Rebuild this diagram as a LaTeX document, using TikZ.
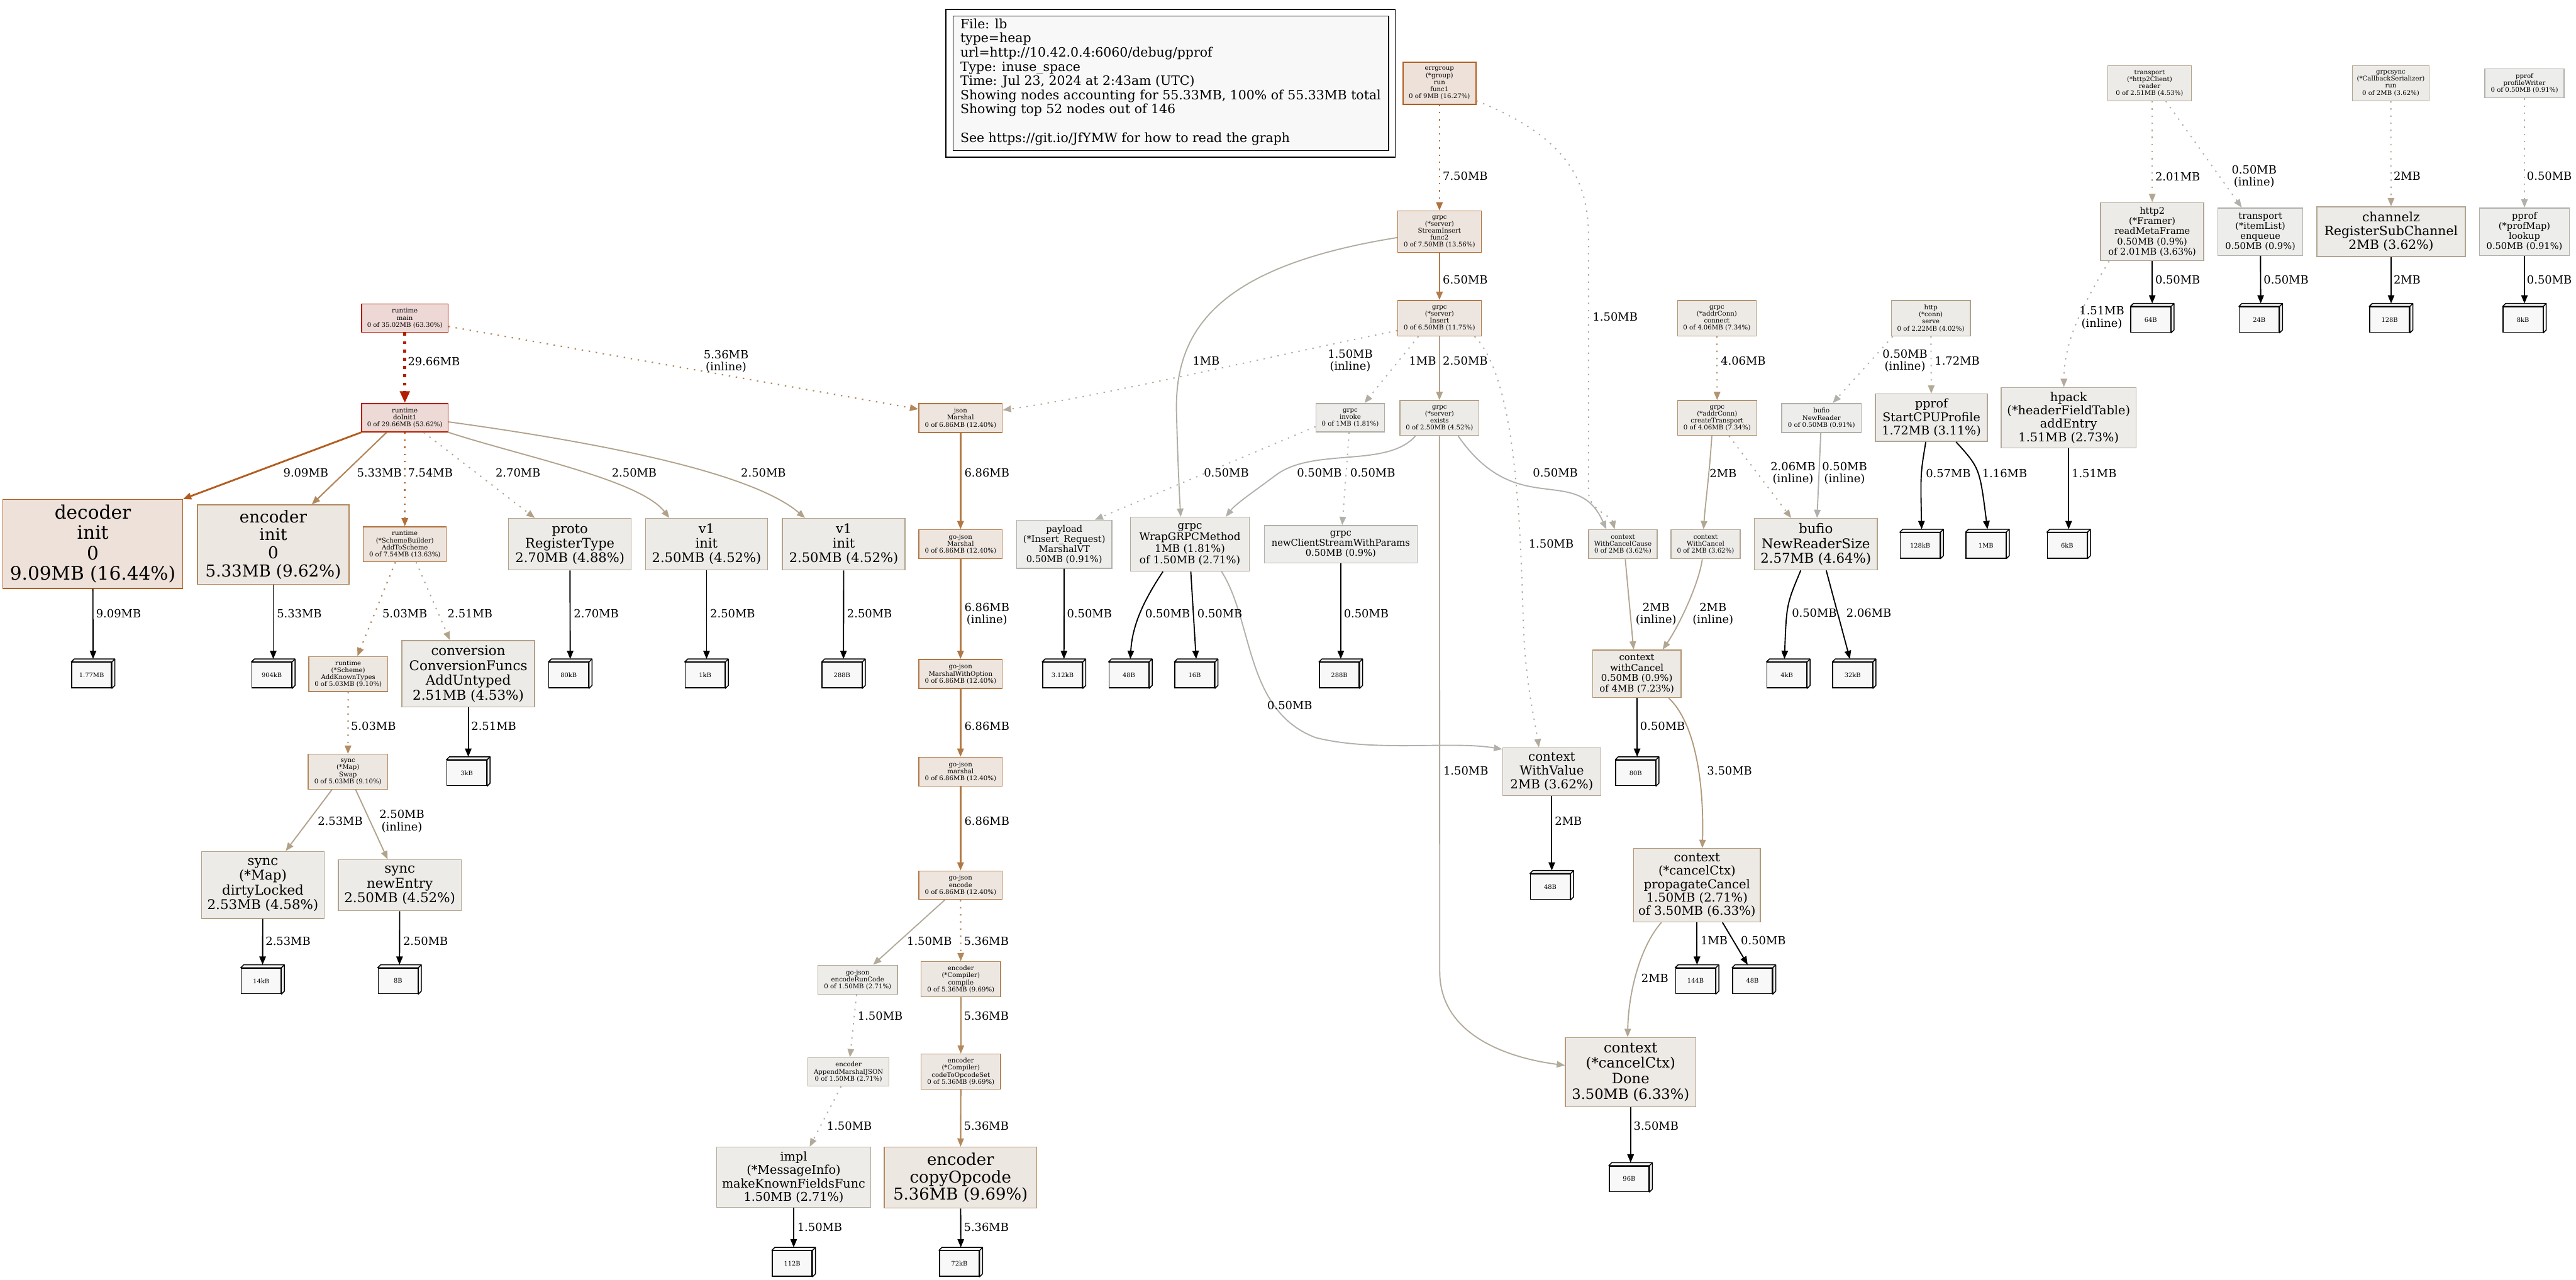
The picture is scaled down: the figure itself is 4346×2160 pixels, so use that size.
\documentclass[tikz,border=0pt]{standalone}
\usepackage{fontspec}
\setmainfont{DejaVu Serif}
\usetikzlibrary{arrows.meta}
\definecolor{fRa}{HTML}{EDD8D5}\definecolor{dRa}{HTML}{B21600}
\definecolor{fRb}{HTML}{EDD9D5}\definecolor{dRb}{HTML}{B21E00}
\definecolor{fO16}{HTML}{EDE1D9}\definecolor{dO16}{HTML}{B25D1F}
\definecolor{fO13}{HTML}{EDE4DD}\definecolor{dO13}{HTML}{B27039}
\definecolor{fO12}{HTML}{EDE5DE}\definecolor{dO12}{HTML}{B27743}
\definecolor{fO11}{HTML}{EDE5DF}\definecolor{dO11}{HTML}{B27B49}
\definecolor{fO9}{HTML}{EDE7E1}\definecolor{dO9}{HTML}{B2885C}
\definecolor{fT7}{HTML}{EDE9E4}\definecolor{dT7}{HTML}{B29471}
\definecolor{fT6}{HTML}{EDE9E5}\definecolor{dT6}{HTML}{B2997A}
\definecolor{fT4}{HTML}{EDEBE7}\definecolor{dT4}{HTML}{B2A28A}
\definecolor{fT3}{HTML}{EDEBE8}\definecolor{dT3}{HTML}{B2A692}
\definecolor{fT2}{HTML}{EDECE9}\definecolor{dT2}{HTML}{B2AA9A}
\definecolor{fG1}{HTML}{EDECEA}\definecolor{dG1}{HTML}{B2ADA2}
\definecolor{fG0}{HTML}{EDEDEC}\definecolor{dG0}{HTML}{B2B0AA}
\definecolor{ecRb}{HTML}{B21E00}
\definecolor{ec16}{HTML}{B25D1F}
\definecolor{ec13}{HTML}{B27039}
\definecolor{ec12}{HTML}{B27743}
\definecolor{ec11}{HTML}{B27B49}
\definecolor{ec9}{HTML}{B2885C}
\definecolor{ec9b}{HTML}{B28B61}
\definecolor{ec7}{HTML}{B29471}
\definecolor{ec6}{HTML}{B2997A}
\definecolor{ec4}{HTML}{B2A28A}
\definecolor{ec4b}{HTML}{B2A187}
\definecolor{ec3}{HTML}{B2A692}
\definecolor{ec3b}{HTML}{B2A896}
\definecolor{ec2}{HTML}{B2AA9A}
\definecolor{ec1}{HTML}{B2ADA2}
\definecolor{ec0}{HTML}{B2B0AA}
\definecolor{leaffill}{HTML}{F8F8F8}
\definecolor{legfill}{HTML}{F8F8F8}
\newcommand\fs[2]{\fontsize{#1pt}{#2pt}\selectfont}
\tikzset{
 pb/.style={draw,rectangle,inner sep=0pt,align=center,line width=1.5pt},
 cRa/.style={fill=fRa,draw=dRa}, cRb/.style={fill=fRb,draw=dRb},
 cO16/.style={fill=fO16,draw=dO16}, cO13/.style={fill=fO13,draw=dO13},
 cO12/.style={fill=fO12,draw=dO12}, cO11/.style={fill=fO11,draw=dO11},
 cO9/.style={fill=fO9,draw=dO9}, cT7/.style={fill=fT7,draw=dT7},
 cT6/.style={fill=fT6,draw=dT6}, cT4/.style={fill=fT4,draw=dT4},
 cT3/.style={fill=fT3,draw=dT3}, cT2/.style={fill=fT2,draw=dT2},
 cG1/.style={fill=fG1,draw=dG1}, cG0/.style={fill=fG0,draw=dG0},
 sm/.style={font=\fs{10.8}{11.9}},
 leafbox/.style={draw=black,fill=leaffill,line width=1.6pt,minimum width=67pt,minimum height=43pt,inner sep=0pt,font=\fs{10.5}{12}},
 leafside/.style={fill=leaffill,draw=black,line width=1.6pt,line join=round},
 ed/.style={line width=2pt,-{Triangle[length=14pt,width=11pt]}},
 wA/.style={line width=2.6pt},
 wB/.style={line width=2.3pt},
 dt/.style={dash pattern=on 2.5pt off 9.5pt},
 lf/.style={ed,draw=black},
 lb/.style={font=\fs{19}{20.5},align=center,inner sep=0pt},
 lg/.style={anchor=base west,inner sep=0pt,font=\fs{21.7}{24}},
}
\newcommand\leaf[4]{%
 \node[leafbox] (#1) at (#2-2.5,#3+2.5) {#4};
 \filldraw[leafside] (#1.north west) -- ([shift={(5,-5)}]#1.north west) -- ([shift={(5,-5)}]#1.north east) -- ([shift={(5,-5)}]#1.south east) -- (#1.south east) -- (#1.north east) -- cycle;
 \draw[leafside] (#1.north east) -- ([shift={(5,-5)}]#1.north east);
 \coordinate (#1t) at ([shift={(2.5,-5)}]#1.north);
}
\begin{document}
\begin{tikzpicture}[x=1pt,y=-1pt]
\useasboundingbox (0,0) rectangle (4346,2160);
\fill[white] (0,0) rectangle (4346,2160);
% legend
\node[draw=black,line width=1.6pt,fill=white,minimum width=758pt,minimum height=249pt,inner sep=0pt] (legout) at (1975,140.5) {};
\node[draw=black,line width=1.6pt,fill=legfill,minimum width=735pt,minimum height=227pt,inner sep=0pt] (legin) at (1975.5,140.5) {};
\node[lg] (lg1) at (1620,48) {File: lb};
\node[lg] (lg2) at (1620,72) {type=heap};
\node[lg] (lg3) at (1620,96) {url=http://10.42.0.4:6060/debug/pprof};
\node[lg] (lg4) at (1620,120) {Type: inuse\_space};
\node[lg] (lg5) at (1620,144) {Time: Jul 23, 2024 at 2:43am (UTC)};
\node[lg] (lg6) at (1620,168) {Showing nodes accounting for 55.33MB, 100\% of 55.33MB total};
\node[lg] (lg7) at (1620,192) {Showing top 52 nodes out of 146};
\node[lg] (lg8) at (1620,240) {See https://git.io/JfYMW for how to read the graph};
% ---------- nodes: top center ----------
\node[pb,cO16,sm,minimum width=123pt,minimum height=71pt] (eg) at (2428.5,140.5) {errgroup\\(*group)\\run\\func1\\0 of 9MB (16.27\%)};
\node[pb,cO13,sm,minimum width=141pt,minimum height=70pt] (si) at (2428.5,391) {grpc\\(*server)\\StreamInsert\\func2\\0 of 7.50MB (13.56\%)};
\node[pb,cO11,sm,minimum width=141pt,minimum height=60pt] (ins) at (2428.5,537) {grpc\\(*server)\\Insert\\0 of 6.50MB (11.75\%)};
\node[pb,cG1,sm,minimum width=116pt,minimum height=48pt] (inv) at (2278,705) {grpc\\invoke\\0 of 1MB (1.81\%)};
\node[pb,cT4,sm,minimum width=133pt,minimum height=59pt] (ex) at (2428.5,705.5) {grpc\\(*server)\\exists\\0 of 2.50MB (4.52\%)};
\node[pb,cG0,font=\fs{15.5}{17},minimum width=161pt,minimum height=81pt] (pay) at (1795.5,918.5) {payload\\(*Insert\_Request)\\MarshalVT\\0.50MB (0.91\%)};
\node[pb,cT2,font=\fs{17.8}{19.6},minimum width=201pt,minimum height=91pt] (wrap) at (2007.5,918.5) {grpc\\WrapGRPCMethod\\1MB (1.81\%)\\of 1.50MB (2.71\%)};
\node[pb,cG0,font=\fs{15.6}{17.2},minimum width=258pt,minimum height=63pt] (ncs) at (2262,918.5) {grpc\\newClientStreamWithParams\\0.50MB (0.9\%)};
\node[pb,cT3,sm,minimum width=116pt,minimum height=49pt] (wcc) at (2738,918.5) {context\\WithCancelCause\\0 of 2MB (3.62\%)};
\node[pb,cT3,sm,minimum width=117pt,minimum height=49pt] (wc) at (2877.5,918.5) {context\\WithCancel\\0 of 2MB (3.62\%)};
\node[pb,cT7,font=\fs{15.8}{17.4},minimum width=149pt,minimum height=80pt] (wcl) at (2761.5,1137) {context\\withCancel\\0.50MB (0.9\%)\\of 4MB (7.23\%)};
\node[pb,cT3,font=\fs{21}{23.3},minimum width=166pt,minimum height=81pt] (wv) at (2618,1302.5) {context\\WithValue\\2MB (3.62\%)};
\node[pb,cT6,font=\fs{20.7}{22.7},minimum width=214pt,minimum height=124pt] (prop) at (2863,1494) {context\\(*cancelCtx)\\propagateCancel\\1.50MB (2.71\%)\\of 3.50MB (6.33\%)};
\node[pb,cT6,font=\fs{24}{26.4},minimum width=220pt,minimum height=117pt] (done) at (2751,1809.5) {context\\(*cancelCtx)\\Done\\3.50MB (6.33\%)};
% ---------- nodes: right ----------
\node[pb,cT7,sm,minimum width=133pt,minimum height=60pt] (conn) at (2896.5,537) {grpc\\(*addrConn)\\connect\\0 of 4.06MB (7.34\%)};
\node[pb,cT7,sm,minimum width=134pt,minimum height=59pt] (ct) at (2897,705.5) {grpc\\(*addrConn)\\createTransport\\0 of 4.06MB (7.34\%)};
\node[pb,cT4,sm,minimum width=133pt,minimum height=60pt] (serve) at (3257.5,537) {http\\(*conn)\\serve\\0 of 2.22MB (4.02\%)};
\node[pb,cG0,sm,minimum width=134pt,minimum height=49pt] (nr) at (3073,705.5) {bufio\\NewReader\\0 of 0.50MB (0.91\%)};
\node[pb,cT3,font=\fs{20.2}{22.7},minimum width=189pt,minimum height=80pt] (cpu) at (3258.5,705) {pprof\\StartCPUProfile\\1.72MB (3.11\%)};
\node[pb,cT2,font=\fs{20.5}{22.6},minimum width=228pt,minimum height=102pt] (hpack) at (3490,705) {hpack\\(*headerFieldTable)\\addEntry\\1.51MB (2.73\%)};
\node[pb,cT4,font=\fs{22.6}{24.8},minimum width=207pt,minimum height=87pt] (nrs) at (3063.5,918.5) {bufio\\NewReaderSize\\2.57MB (4.64\%)};
\node[pb,cT4,sm,minimum width=141pt,minimum height=59pt] (reader) at (3626.5,140.5) {transport\\(*http2Client)\\reader\\0 of 2.51MB (4.53\%)};
\node[pb,cT3,sm,minimum width=129pt,minimum height=59pt] (gsync) at (4033.5,140.5) {grpcsync\\(*CallbackSerializer)\\run\\0 of 2MB (3.62\%)};
\node[pb,cG0,sm,minimum width=134pt,minimum height=49pt] (pw) at (4259,140.5) {pprof\\profileWriter\\0 of 0.50MB (0.91\%)};
\node[pb,cT3,font=\fs{15.5}{17.1},minimum width=174pt,minimum height=98pt] (h2) at (3631,391) {http2\\(*Framer)\\readMetaFrame\\0.50MB (0.9\%)\\of 2.01MB (3.63\%)};
\node[pb,cG0,font=\fs{15.5}{17},minimum width=143pt,minimum height=80pt] (enq) at (3813.5,391) {transport\\(*itemList)\\enqueue\\0.50MB (0.9\%)};
\node[pb,cT3,font=\fs{21.5}{23.3},minimum width=250pt,minimum height=84pt] (chz) at (4034,391) {channelz\\RegisterSubChannel\\2MB (3.62\%)};
\node[pb,cG0,font=\fs{15.5}{17},minimum width=152pt,minimum height=80pt] (lookup) at (4259,391) {pprof\\(*profMap)\\lookup\\0.50MB (0.91\%)};
% ---------- nodes: left ----------
\node[pb,cRa,sm,minimum width=146pt,minimum height=48pt] (rmain) at (683,537) {runtime\\main\\0 of 35.02MB (63.30\%)};
\node[pb,cRb,sm,minimum width=146pt,minimum height=48pt] (rinit) at (683,705) {runtime\\doInit1\\0 of 29.66MB (53.62\%)};
\node[pb,cO16,font=\fs{31.4}{34.5},minimum width=303pt,minimum height=150pt] (dec) at (156.5,918) {decoder\\init\\0\\9.09MB (16.44\%)};
\node[pb,cO9,font=\fs{27.7}{30.4},minimum width=256pt,minimum height=134pt] (enc) at (461,919) {encoder\\init\\0\\5.33MB (9.62\%)};
\node[pb,cO13,sm,minimum width=140pt,minimum height=59pt] (ats) at (683,918.5) {runtime\\(*SchemeBuilder)\\AddToScheme\\0 of 7.54MB (13.63\%)};
\node[pb,cT4,font=\fs{22.3}{24.5},minimum width=207pt,minimum height=87pt] (proto) at (961.5,918.5) {proto\\RegisterType\\2.70MB (4.88\%)};
\node[pb,cT4,font=\fs{22.3}{24.5},minimum width=206pt,minimum height=87pt] (v1a) at (1192,918.5) {v1\\init\\2.50MB (4.52\%)};
\node[pb,cT4,font=\fs{22.3}{24.5},minimum width=207pt,minimum height=87pt] (v1b) at (1423.5,918.5) {v1\\init\\2.50MB (4.52\%)};
\node[pb,cO9,sm,minimum width=133pt,minimum height=59pt] (akt) at (587.5,1137.5) {runtime\\(*Scheme)\\AddKnownTypes\\0 of 5.03MB (9.10\%)};
\node[pb,cT4,font=\fs{22.7}{25},minimum width=224pt,minimum height=112pt] (conv) at (790,1137) {conversion\\ConversionFuncs\\AddUntyped\\2.51MB (4.53\%)};
\node[pb,cO9,sm,minimum width=134pt,minimum height=59pt] (swap) at (587,1302.5) {sync\\(*Map)\\Swap\\0 of 5.03MB (9.10\%)};
\node[pb,cT4,font=\fs{22.7}{25},minimum width=207pt,minimum height=113pt] (dirty) at (443.5,1493.5) {sync\\(*Map)\\dirtyLocked\\2.53MB (4.58\%)};
\node[pb,cT4,font=\fs{22.7}{25},minimum width=207pt,minimum height=86pt] (newent) at (674.5,1494) {sync\\newEntry\\2.50MB (4.52\%)};
% ---------- nodes: json column ----------
\node[pb,cO12,sm,minimum width=141pt,minimum height=49pt] (jm) at (1620.5,705.5) {json\\Marshal\\0 of 6.86MB (12.40\%)};
\node[pb,cO12,sm,minimum width=141pt,minimum height=49pt] (gjm) at (1620.5,918.5) {go-json\\Marshal\\0 of 6.86MB (12.40\%)};
\node[pb,cO12,sm,minimum width=141pt,minimum height=49pt] (gjmwo) at (1620.5,1137.5) {go-json\\MarshalWithOption\\0 of 6.86MB (12.40\%)};
\node[pb,cO12,sm,minimum width=141pt,minimum height=49pt] (gjmar) at (1620.5,1302.5) {go-json\\marshal\\0 of 6.86MB (12.40\%)};
\node[pb,cO12,sm,minimum width=141pt,minimum height=48pt] (gjenc) at (1620.5,1494) {go-json\\encode\\0 of 6.86MB (12.40\%)};
\node[pb,cT2,sm,minimum width=134pt,minimum height=49pt] (erc) at (1447,1653.5) {go-json\\encodeRunCode\\0 of 1.50MB (2.71\%)};
\node[pb,cO9,sm,minimum width=134pt,minimum height=59pt] (comp) at (1621,1652.5) {encoder\\(*Compiler)\\compile\\0 of 5.36MB (9.69\%)};
\node[pb,cT2,sm,minimum width=137pt,minimum height=48pt] (amj) at (1431.5,1809) {encoder\\AppendMarshalJSON\\0 of 1.50MB (2.71\%)};
\node[pb,cO9,sm,minimum width=134pt,minimum height=59pt] (ctos) at (1621,1808.5) {encoder\\(*Compiler)\\codeToOpcodeSet\\0 of 5.36MB (9.69\%)};
\node[pb,cT2,font=\fs{20.4}{22.4},minimum width=260pt,minimum height=102pt] (impl) at (1339,1987) {impl\\(*MessageInfo)\\makeKnownFieldsFunc\\1.50MB (2.71\%)};
\node[pb,cO9,font=\fs{27.5}{29.6},minimum width=257pt,minimum height=103pt] (copy) at (1620.5,1987.5) {encoder\\copyOpcode\\5.36MB (9.69\%)};
% ---------- leaves ----------
\leaf{l177}{157}{1137}{1.77MB}
\leaf{l904}{461}{1137}{904kB}
\leaf{l80k}{962}{1137}{80kB}
\leaf{l1k}{1192}{1137}{1kB}
\leaf{l288a}{1423}{1137}{288B}
\leaf{l3k}{790}{1302}{3kB}
\leaf{l14k}{443}{1653}{14kB}
\leaf{l8b}{674}{1653}{8B}
\leaf{l312}{1795}{1137}{3.12kB}
\leaf{l48a}{1907}{1137}{48B}
\leaf{l16}{2018}{1137}{16B}
\leaf{l288b}{2262}{1137}{288B}
\leaf{l80b}{2762}{1302}{80B}
\leaf{l48b}{2618}{1494}{48B}
\leaf{l144}{2863}{1653}{144B}
\leaf{l48c}{2959}{1653}{48B}
\leaf{l96}{2751}{1987}{96B}
\leaf{l4k}{3017}{1137}{4kB}
\leaf{l32k}{3128}{1137}{32kB}
\leaf{l128k}{3242}{918}{128kB}
\leaf{l1m}{3353}{918}{1MB}
\leaf{l6k}{3490}{918}{6kB}
\leaf{l64}{3631}{537}{64B}
\leaf{l24}{3814}{537}{24B}
\leaf{l128}{4034}{537}{128B}
\leaf{l8k}{4259}{537}{8kB}
\leaf{l112}{1339}{2130}{112B}
\leaf{l72k}{1621}{2130}{72kB}
% ---------- edges: top center ----------
\draw[ed,wA,dt,draw=ec13] (eg) -- (si);
\draw[ed,wA,draw=ec11] (si) -- (ins);
\draw[ed,draw=ec4] (ins) -- (ex);
\draw[ed,dt,draw=ec1] ([shift={(-35.5,0)}]ins.south) -- ([shift={(24,0)}]inv.north);
\draw[ed,dt,draw=ec2] ([shift={(0,21)}]ins.west) .. controls (2150,600) and (1850,670) .. ([shift={(0,-13.5)}]jm.east);
\draw[ed,dt,draw=ec2] ([shift={(-12,0)}]ins.south east) .. controls (2560,640) and (2565,900) .. (2570,1050) .. controls (2573,1150) and (2590,1220) .. ([shift={(62,0)}]wv.north west);
\draw[ed,draw=ec2] (ex.south) -- (2429,1640) .. controls (2429,1745) and (2540,1785) .. ([shift={(0,-11.5)}]done.west);
\draw[ed,draw=ec0] ([shift={(-40.5,0)}]ex.south) .. controls (2340,790) and (2220,755) .. (2155,800) .. controls (2115,830) and (2085,850) .. ([shift={(60.5,0)}]wrap.north);
\draw[ed,draw=ec0] ([shift={(31.5,0)}]ex.south) .. controls (2560,880) and (2660,780) .. ([shift={(-28,0)}]wcc.north);
\draw[ed,dt,draw=ec2] ([shift={(0,29.5)}]eg.east) .. controls (2640,230) and (2680,300) .. (2680,400) -- (2680,830) .. controls (2680,860) and (2718,870) .. ([shift={(-14,0)}]wcc.north);
\draw[ed,draw=ec1] ([shift={(0,10)}]si.west) .. controls (2050,450) and (1980,560) .. (1985,700) .. controls (1987,780) and (1990,840) .. ([shift={(-15.5,0)}]wrap.north);
\draw[ed,dt,draw=ec0] ([shift={(0,15)}]inv.west) -- ([shift={(51.5,0)}]pay.north);
\draw[ed,dt,draw=ec0] (inv) -- (ncs);
\draw[lf] ([shift={(-45.5,0)}]wrap.south) .. controls (1925,1020) and (1910,1060) .. (l48at);
\draw[lf] ([shift={(1.5,0)}]wrap.south) -- (l16t);
\draw[ed,draw=ec0] ([shift={(53.5,0)}]wrap.south) .. controls (2115,1050) and (2100,1200) .. (2220,1245) .. controls (2320,1270) and (2450,1250) .. ([shift={(0,-38)}]wv.west);
\draw[lf] (pay) -- (l312t);
\draw[lf] (ncs) -- (l288bt);
\draw[ed,draw=ec3] ([shift={(4,0)}]wcc.south) -- ([shift={(-5.5,0)}]wcl.north);
\draw[ed,draw=ec3] ([shift={(-5.5,0)}]wc.south) .. controls (2865,990) and (2830,1060) .. ([shift={(43.5,0)}]wcl.north);
\draw[lf] (wcl) -- (l80bt);
\draw[ed,draw=ec6] ([shift={(53.5,0)}]wcl.south) .. controls (2860,1220) and (2875,1320) .. ([shift={(9,0)}]prop.north);
\draw[lf] (wv) -- (l48bt);
\draw[lf] (prop) -- (l144t);
\draw[lf] ([shift={(43,0)}]prop.south) -- ([shift={(-8,-5)}]l48c.north);
\draw[ed,draw=ec3] ([shift={(-60,0)}]prop.south) .. controls (2765,1600) and (2747,1680) .. ([shift={(-5,0)}]done.north);
\draw[lf] (done) -- (l96t);
% ---------- edges: right ----------
\draw[ed,dt,draw=ec7] (conn) -- (ct);
\draw[ed,draw=ec3] ([shift={(-9,0)}]ct.south) .. controls (2884,800) and (2877,850) .. ([shift={(-3.5,0)}]wc.north);
\draw[ed,dt,draw=ec3] ([shift={(20,0)}]ct.south) -- ([shift={(-41.5,0)}]nrs.north);
\draw[ed,draw=ec0] (nr) -- (nrs);
\draw[ed,dt,draw=ec0] ([shift={(3,0)}]serve.south west) -- ([shift={(19,0)}]nr.north);
\draw[ed,dt,draw=ec3b] (serve) -- (cpu);
\draw[lf] ([shift={(-9.5,0)}]cpu.south) .. controls (3240,800) .. (l128kt);
\draw[lf] ([shift={(41.5,0)}]cpu.south) .. controls (3340,790) .. (l1mt);
\draw[lf] (hpack) -- (l6kt);
\draw[lf] ([shift={(-25.5,0)}]nrs.south) .. controls (3014,1020) .. ([shift={(-4,-5)}]l4k.north);
\draw[lf] ([shift={(17.5,0)}]nrs.south) -- ([shift={(-4.5,-5)}]l32k.north);
\draw[ed,dt,draw=ec3] ([shift={(4.5,0)}]reader.south) -- (h2);
\draw[ed,dt,draw=ec0] ([shift={(27.5,0)}]reader.south) -- ([shift={(-31.5,0)}]enq.north);
\draw[ed,dt,draw=ec3] (gsync) -- (chz);
\draw[ed,dt,draw=ec0] (pw) -- (lookup);
\draw[lf] (h2) -- (l64t);
\draw[lf] (enq) -- (l24t);
\draw[lf] (chz) -- (l128t);
\draw[lf] (lookup) -- (l8kt);
\draw[ed,dt,draw=ec2] ([shift={(15,0)}]h2.south west) .. controls (3510,520) and (3482,580) .. ([shift={(-8,0)}]hpack.north);
% ---------- edges: left ----------
\draw[ed,draw=ecRb,line width=5pt,dash pattern=on 5pt off 9pt,-{Triangle[length=20pt,width=16pt]}] (rmain) -- (rinit);
\draw[ed,wB,dt,draw=ec9] ([shift={(0,14)}]rmain.east) -- ([shift={(0,-15)}]jm.west);
\draw[ed,draw=ec16,line width=3pt] (rinit.south west) -- (dec.north east);
\draw[ed,wB,draw=ec9] ([shift={(43,0)}]rinit.south west) -- ([shift={(65,0)}]enc.north);
\draw[ed,wA,dt,draw=ec13] (rinit) -- (ats);
\draw[ed,dt,draw=ec4b] ([shift={(32,0)}]rinit.south) -- ([shift={(45,0)}]proto.north west);
\draw[ed,draw=ec4] (rinit.south east) .. controls (880,770) and (1080,810) .. ([shift={(41,0)}]v1a.north west);
\draw[ed,draw=ec4] ([shift={(0,7)}]rinit.east) .. controls (960,740) and (1260,790) .. ([shift={(39,0)}]v1b.north west);
\draw[lf] (dec) -- (l177t);
\draw[lf] (enc) -- (l904t);
\draw[lf] (proto) -- (l80kt);
\draw[lf] (v1a) -- (l1kt);
\draw[lf] (v1b) -- (l288at);
\draw[ed,wB,dt,draw=ec9b] ([shift={(-16,0)}]ats.south) -- ([shift={(15.5,0)}]akt.north);
\draw[ed,dt,draw=ec4] ([shift={(19,0)}]ats.south) -- ([shift={(-31,0)}]conv.north);
\draw[ed,wB,dt,draw=ec9b] (akt) -- (swap);
\draw[lf] (conv) -- (l3kt);
\draw[ed,draw=ec4] ([shift={(-27,0)}]swap.south) -- ([shift={(38.5,0)}]dirty.north);
\draw[ed,draw=ec4] ([shift={(13,0)}]swap.south) -- ([shift={(-20.5,0)}]newent.north);
\draw[lf] (dirty) -- (l14kt);
\draw[lf] (newent) -- (l8bt);
% ---------- edges: json ----------
\draw[ed,wA,draw=ec12] (jm) -- (gjm);
\draw[ed,wA,draw=ec12] (gjm) -- (gjmwo);
\draw[ed,wA,draw=ec12] (gjmwo) -- (gjmar);
\draw[ed,wA,draw=ec12] (gjmar) -- (gjenc);
\draw[ed,draw=ec2] ([shift={(-26.5,0)}]gjenc.south) -- ([shift={(26,0)}]erc.north);
\draw[ed,wB,dt,draw=ec9] (gjenc) -- (comp);
\draw[ed,dt,draw=ec2] ([shift={(-2,0)}]erc.south) -- ([shift={(2.5,0)}]amj.north);
\draw[ed,wB,draw=ec9] (comp) -- (ctos);
\draw[ed,wB,draw=ec9] (ctos) -- (copy);
\draw[ed,dt,draw=ec2] ([shift={(-12.5,0)}]amj.south) -- ([shift={(27,0)}]impl.north);
\draw[lf] (impl) -- (l112t);
\draw[lf] (copy) -- (l72kt);
% ---------- edge labels ----------
\node[lb] (t01) at (2472,297) {7.50MB};
\node[lb] (t02) at (2472,472) {6.50MB};
\node[lb] (t03) at (2472,609) {2.50MB};
\node[lb] (t04) at (2400,609) {1MB};
\node[lb] (t05) at (2278,609) {1.50MB\\(inline)};
\node[lb] (t06) at (2617,918) {1.50MB};
\node[lb] (t07) at (2473,1301) {1.50MB};
\node[lb] (t08) at (2226,798) {0.50MB};
\node[lb] (t09) at (2624,798) {0.50MB};
\node[lb] (t10) at (2725,535) {1.50MB};
\node[lb] (t11) at (2035,609) {1MB};
\node[lb] (t12) at (2069,798) {0.50MB};
\node[lb] (t13) at (2316,798) {0.50MB};
\node[lb] (t14) at (1970,1036) {0.50MB};
\node[lb] (t15) at (2058,1036) {0.50MB};
\node[lb] (t16) at (2176,1190) {0.50MB};
\node[lb] (t17) at (1838,1036) {0.50MB};
\node[lb] (t18) at (2305,1036) {0.50MB};
\node[lb] (t19) at (2794,1036) {2MB\\(inline)};
\node[lb] (t20) at (2890,1036) {2MB\\(inline)};
\node[lb] (t21) at (2805,1225) {0.50MB};
\node[lb] (t22) at (2918,1301) {3.50MB};
\node[lb] (t23) at (2646,1386) {2MB};
\node[lb] (t24) at (2892,1587) {1MB};
\node[lb] (t25) at (2975,1587) {0.50MB};
\node[lb] (t26) at (2792,1651) {2MB};
\node[lb] (t27) at (2794,1900) {3.50MB};
\node[lb] (t28) at (2941,609) {4.06MB};
\node[lb] (t29) at (2907,799) {2MB};
\node[lb] (t30) at (3025,799) {2.06MB\\(inline)};
\node[lb] (t31) at (3112,799) {0.50MB\\(inline)};
\node[lb] (t32) at (3214,609) {0.50MB\\(inline)};
\node[lb] (t33) at (3302,609) {1.72MB};
\node[lb] (t34) at (3287,799) {0.57MB};
\node[lb] (t35) at (3382,799) {1.16MB};
\node[lb] (t36) at (3533,799) {1.51MB};
\node[lb] (t37) at (3061,1035) {0.50MB};
\node[lb] (t38) at (3153,1035) {2.06MB};
\node[lb] (t39) at (3674,298) {2.01MB};
\node[lb] (t40) at (3803,298) {0.50MB\\(inline)};
\node[lb] (t41) at (4061,297) {2MB};
\node[lb] (t42) at (4301,297) {0.50MB};
\node[lb] (t43) at (3674,472) {0.50MB};
\node[lb] (t44) at (3857,472) {0.50MB};
\node[lb] (t45) at (4061,472) {2MB};
\node[lb] (t46) at (4301,472) {0.50MB};
\node[lb] (t47) at (3546,536) {1.51MB\\(inline)};
\node[lb] (t48) at (732,610) {29.66MB};
\node[lb] (t49) at (1225,610) {5.36MB\\(inline)};
\node[lb] (t50) at (516,798) {9.09MB};
\node[lb] (t51) at (640,798) {5.33MB};
\node[lb] (t52) at (726,798) {7.54MB};
\node[lb] (t53) at (874,798) {2.70MB};
\node[lb] (t54) at (1070,798) {2.50MB};
\node[lb] (t55) at (1288,798) {2.50MB};
\node[lb] (t56) at (200,1036) {9.09MB};
\node[lb] (t57) at (505,1036) {5.33MB};
\node[lb] (t58) at (683,1036) {5.03MB};
\node[lb] (t59) at (793,1036) {2.51MB};
\node[lb] (t60) at (1006,1036) {2.70MB};
\node[lb] (t61) at (1236,1036) {2.50MB};
\node[lb] (t62) at (1467,1036) {2.50MB};
\node[lb] (t63) at (630,1225) {5.03MB};
\node[lb] (t64) at (833,1225) {2.51MB};
\node[lb] (t65) at (574,1386) {2.53MB};
\node[lb] (t66) at (678,1386) {2.50MB\\(inline)};
\node[lb] (t67) at (486,1588) {2.53MB};
\node[lb] (t68) at (718,1588) {2.50MB};
\node[lb] (t69) at (1665,798) {6.86MB};
\node[lb] (t70) at (1665,1036) {6.86MB\\(inline)};
\node[lb] (t71) at (1665,1225) {6.86MB};
\node[lb] (t72) at (1665,1386) {6.86MB};
\node[lb] (t73) at (1568,1588) {1.50MB};
\node[lb] (t74) at (1664,1588) {5.36MB};
\node[lb] (t75) at (1485,1715) {1.50MB};
\node[lb] (t76) at (1664,1715) {5.36MB};
\node[lb] (t77) at (1433,1900) {1.50MB};
\node[lb] (t78) at (1664,1900) {5.36MB};
\node[lb] (t79) at (1383,2071) {1.50MB};
\node[lb] (t80) at (1664,2071) {5.36MB};
\end{tikzpicture}
\end{document}
